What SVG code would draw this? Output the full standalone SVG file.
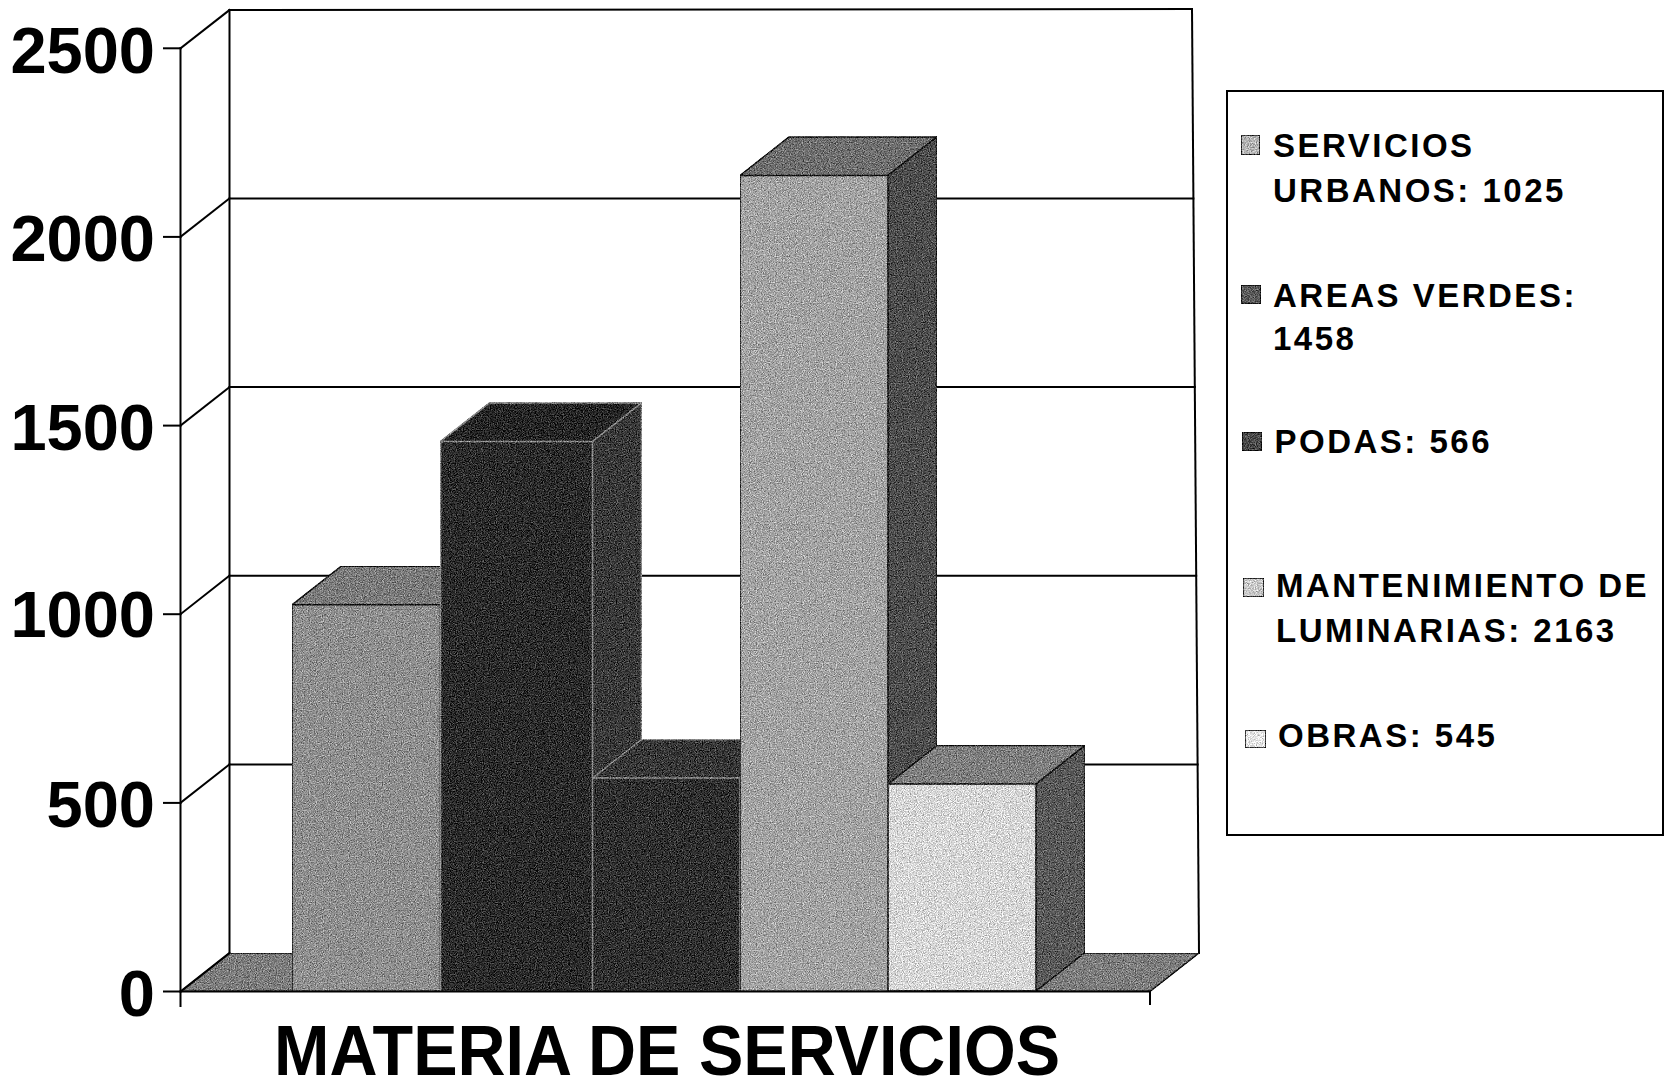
<svg xmlns="http://www.w3.org/2000/svg" width="1666" height="1090" viewBox="0 0 1666 1090">
<style>
.ln{stroke:#000;stroke-width:2;fill:none;stroke-linecap:square}
.face{stroke:#111;stroke-width:1.5;stroke-linejoin:round}
.dface{stroke:#8a8a8a;stroke-width:1.5;stroke-linejoin:round}
.ax{font-family:"Liberation Sans",Arial,sans-serif;font-weight:bold;font-size:65px;fill:#000;text-anchor:end}
.lg{font-family:"Liberation Sans",Arial,sans-serif;font-weight:bold;font-size:33px;letter-spacing:2.5px;fill:#000}
.ttl{font-family:"Liberation Sans",Arial,sans-serif;font-weight:bold;font-size:70px;fill:#000}
.sw{stroke:#000;stroke-width:1.5}
</style>
<defs>
<filter id="grain" x="0" y="0" width="100%" height="100%" color-interpolation-filters="sRGB">
<feTurbulence type="fractalNoise" baseFrequency="0.85" numOctaves="2" seed="7" result="t"/>
<feColorMatrix in="t" type="matrix" values="1 1 1 0 -1  1 1 1 0 -1  1 1 1 0 -1  0 0 0 0 1" result="g"/>
<feComposite in="SourceGraphic" in2="g" operator="arithmetic" k1="0" k2="1" k3="0.5" k4="-0.25" result="m"/>
<feComposite in="m" in2="SourceGraphic" operator="in"/>
</filter>
</defs>
<rect x="0" y="0" width="1666" height="1090" fill="#fff"/>

<g id="back-wall">
<line class="ln" x1="229.5" y1="10" x2="1192" y2="9"/>
<line class="ln" x1="229.5" y1="10" x2="229.5" y2="953"/>
<line class="ln" x1="1192" y1="9" x2="1199" y2="953"/>
<line class="ln" x1="229.5" y1="198.4" x2="1193.4" y2="198.4"/>
<line class="ln" x1="229.5" y1="387.1" x2="1194.8" y2="387.1"/>
<line class="ln" x1="229.5" y1="575.7" x2="1196.2" y2="575.7"/>
<line class="ln" x1="229.5" y1="764.4" x2="1197.6" y2="764.4"/>
</g>

<g id="floor">
<polygon class="face" filter="url(#grain)" fill="#7c7c7c" points="180.5,991.5 229.5,953 1199,953 1150,991.5"/>
</g>

<g id="bar-servicios-urbanos">
<polygon class="face" filter="url(#grain)" fill="#8e8e8e" points="292,604.8 440.5,604.8 440.5,991.5 292,991.5"/>
<polygon class="face" filter="url(#grain)" fill="#7a7a7a" points="292,604.8 341,566.3 489.5,566.3 440.5,604.8"/>
<polygon class="face" filter="url(#grain)" fill="#5c5c5c" points="440.5,604.8 489.5,566.3 489.5,953 440.5,991.5"/>
</g>

<g id="bar-areas-verdes">
<polygon class="dface" filter="url(#grain)" fill="#2a2a2a" points="440.5,441.4 592.5,441.4 592.5,991.5 440.5,991.5"/>
<polygon class="dface" filter="url(#grain)" fill="#252525" points="440.5,441.4 489.5,402.9 641.5,402.9 592.5,441.4"/>
<polygon class="dface" filter="url(#grain)" fill="#383838" points="592.5,441.4 641.5,402.9 641.5,953 592.5,991.5"/>
</g>

<g id="bar-podas">
<polygon class="dface" filter="url(#grain)" fill="#2e2e2e" points="592.5,778 740,778 740,991.5 592.5,991.5"/>
<polygon class="dface" filter="url(#grain)" fill="#363636" points="592.5,778 641.5,739.5 789,739.5 740,778"/>
<polygon class="dface" filter="url(#grain)" fill="#333" points="740,778 789,739.5 789,953 740,991.5"/>
</g>

<g id="bar-mantenimiento-luminarias">
<polygon class="face" filter="url(#grain)" fill="#a2a2a2" points="740,175.4 888,175.4 888,991.5 740,991.5"/>
<polygon class="face" filter="url(#grain)" fill="#6e6e6e" points="740,175.4 789,136.9 937,136.9 888,175.4"/>
<polygon class="face" filter="url(#grain)" fill="#4c4c4c" points="888,175.4 937,136.9 937,953 888,991.5"/>
</g>

<g id="bar-obras">
<polygon class="face" filter="url(#grain)" fill="#d6d6d6" points="888,784 1036,784 1036,991 888,991"/>
<polygon class="face" filter="url(#grain)" fill="#7e7e7e" points="888,784 937,745.5 1085,745.5 1036,784"/>
<polygon class="face" filter="url(#grain)" fill="#585858" points="1036,784 1085,745.5 1085,952.5 1036,991"/>
</g>

<g id="axes">
<line class="ln" x1="180.5" y1="48.3" x2="180.5" y2="1006"/>
<line class="ln" x1="180.5" y1="991.5" x2="1150" y2="991.5"/>
<line class="ln" x1="1150" y1="991.5" x2="1150" y2="1004"/>
<line class="ln" x1="164" y1="48.3" x2="180.5" y2="48.3"/>
<line class="ln" x1="164" y1="236.9" x2="180.5" y2="236.9"/>
<line class="ln" x1="164" y1="425.6" x2="180.5" y2="425.6"/>
<line class="ln" x1="164" y1="614.2" x2="180.5" y2="614.2"/>
<line class="ln" x1="164" y1="802.9" x2="180.5" y2="802.9"/>
<line class="ln" x1="164" y1="991.5" x2="180.5" y2="991.5"/>
<line class="ln" x1="180.5" y1="48.3" x2="229.5" y2="10"/>
<line class="ln" x1="180.5" y1="236.9" x2="229.5" y2="198.4"/>
<line class="ln" x1="180.5" y1="425.6" x2="229.5" y2="387.1"/>
<line class="ln" x1="180.5" y1="614.2" x2="229.5" y2="575.7"/>
<line class="ln" x1="180.5" y1="802.9" x2="229.5" y2="764.4"/>
<line class="ln" x1="180.5" y1="991.5" x2="229.5" y2="953"/>
</g>

<g id="y-labels">
<text class="ax" x="155" y="72.6">2500</text>
<text class="ax" x="155" y="261.2">2000</text>
<text class="ax" x="155" y="449.9">1500</text>
<text class="ax" x="155" y="637">1000</text>
<text class="ax" x="155" y="827.2">500</text>
<text class="ax" x="155" y="1015.8">0</text>
</g>

<g id="title">
<text class="ttl" x="274" y="1075" textLength="786" lengthAdjust="spacingAndGlyphs">MATERIA DE SERVICIOS</text>
</g>

<g id="legend">
<rect x="1227" y="91" width="436" height="744" fill="#fff" stroke="#000" stroke-width="2"/>
<rect class="sw" filter="url(#grain)" fill="#b4b4b4" x="1241" y="135" width="19" height="20"/>
<text class="lg" x="1273" y="156.7">SERVICIOS</text>
<text class="lg" x="1273" y="201.7">URBANOS: 1025</text>
<rect class="sw" filter="url(#grain)" fill="#5a5a5a" x="1241" y="285" width="20" height="19"/>
<text class="lg" x="1273" y="306.7">AREAS VERDES:</text>
<text class="lg" x="1273" y="350">1458</text>
<rect class="sw" filter="url(#grain)" fill="#4a4a4a" x="1242" y="432" width="20" height="19"/>
<text class="lg" x="1274.5" y="452.7">PODAS: 566</text>
<rect class="sw" filter="url(#grain)" fill="#c8c8c8" x="1243" y="578" width="21" height="19"/>
<text class="lg" x="1276" y="596.7">MANTENIMIENTO DE</text>
<text class="lg" x="1276" y="641.7">LUMINARIAS: 2163</text>
<rect class="sw" filter="url(#grain)" fill="#e6e6e6" x="1245" y="730" width="21" height="18"/>
<text class="lg" x="1278" y="746.7">OBRAS: 545</text>
</g>
</svg>
